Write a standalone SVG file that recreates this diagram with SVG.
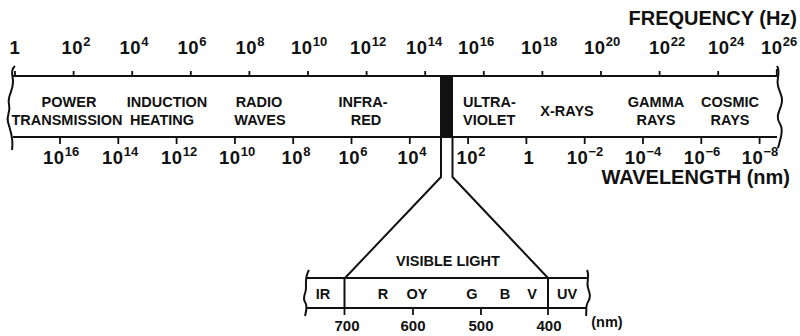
<svg xmlns="http://www.w3.org/2000/svg" width="800" height="336" viewBox="0 0 800 336">
<style>
text{font-family:"Liberation Sans",Arial,sans-serif;font-weight:bold;fill:#111}
.num{font-size:18.5px;text-anchor:middle;letter-spacing:0.6px}
.sup{font-size:13px;letter-spacing:0}
.band{font-size:14.5px;text-anchor:middle}
.title{font-size:20px;text-anchor:end}
.vis{font-size:14.5px;text-anchor:middle}
.vnum{font-size:15px;text-anchor:middle}
.ln{fill:none;stroke:#111;stroke-width:2}
.tk{stroke:#111;stroke-width:1.8}
</style>
<g id="frequency-axis">
<text class="title" x="797" y="25">FREQUENCY (Hz)</text>
<text class="num" x="15" y="54">1</text>
<text class="num" x="76" y="54">10<tspan class="sup" dy="-8">2</tspan></text>
<text class="num" x="134" y="54">10<tspan class="sup" dy="-8">4</tspan></text>
<text class="num" x="192" y="54">10<tspan class="sup" dy="-8">6</tspan></text>
<text class="num" x="250" y="54">10<tspan class="sup" dy="-8">8</tspan></text>
<text class="num" x="309" y="54">10<tspan class="sup" dy="-8">10</tspan></text>
<text class="num" x="368" y="54">10<tspan class="sup" dy="-8">12</tspan></text>
<text class="num" x="424" y="54">10<tspan class="sup" dy="-8">14</tspan></text>
<text class="num" x="476" y="54">10<tspan class="sup" dy="-8">16</tspan></text>
<text class="num" x="539" y="54">10<tspan class="sup" dy="-8">18</tspan></text>
<text class="num" x="602" y="54">10<tspan class="sup" dy="-8">20</tspan></text>
<text class="num" x="667" y="54">10<tspan class="sup" dy="-8">22</tspan></text>
<text class="num" x="726" y="54">10<tspan class="sup" dy="-8">24</tspan></text>
<text class="num" x="779" y="54">10<tspan class="sup" dy="-8">26</tspan></text>
</g>
<g id="spectrum-band">
<path class="ln" d="M13,76 H777 M13,137 H777"/>
<path class="ln" d="M15,66 C10,70 13,76 13,82 C13,92 7,96 9,104 C11,112 6,116 8,122 C10,130 14,138 12,150"/>
<path class="ln" d="M777,66 C781,72 776,78 778,86 C780,94 784,98 781,106 C778,114 776,118 780,124 C784,130 780,140 778,148"/>
<g class="tk">
<path d="M15,71V76M73.6,71V76M132.2,71V76M190.8,71V76M249.4,71V76M308,71V76M366.6,71V76M425.2,71V76M483.8,71V76M542.4,71V76M601,71V76M659.6,71V76M718.2,71V76M776.8,69V76"/>
<path d="M60,137V144M118.3,137V144M176.6,137V144M234.9,137V144M293.2,137V144M351.5,137V144M409.8,137V144M468.1,137V144M526.4,137V144M584.7,137V144M643,137V144M701.3,137V144M759.6,137V144"/>
</g>
<rect x="440" y="76" width="13" height="61" fill="#111"/>
<text class="band" x="69" y="107">POWER</text>
<text class="band" x="67" y="125">TRANSMISSION</text>
<text class="band" x="167" y="107">INDUCTION</text>
<text class="band" x="162" y="125">HEATING</text>
<text class="band" x="259" y="107">RADIO</text>
<text class="band" x="260" y="125">WAVES</text>
<text class="band" x="363" y="107">INFRA-</text>
<text class="band" x="366" y="125">RED</text>
<text class="band" x="463" y="107" style="text-anchor:start">ULTRA-</text>
<text class="band" x="463" y="125" style="text-anchor:start">VIOLET</text>
<text class="band" x="567" y="116">X-RAYS</text>
<text class="band" x="656" y="107">GAMMA</text>
<text class="band" x="656" y="125">RAYS</text>
<text class="band" x="730" y="107">COSMIC</text>
<text class="band" x="730" y="125">RAYS</text>
</g>
<g id="wavelength-axis">
<text class="num" x="61" y="164">10<tspan class="sup" dy="-8">16</tspan></text>
<text class="num" x="120" y="164">10<tspan class="sup" dy="-8">14</tspan></text>
<text class="num" x="179" y="164">10<tspan class="sup" dy="-8">12</tspan></text>
<text class="num" x="237" y="164">10<tspan class="sup" dy="-8">10</tspan></text>
<text class="num" x="296" y="164">10<tspan class="sup" dy="-8">8</tspan></text>
<text class="num" x="353" y="164">10<tspan class="sup" dy="-8">6</tspan></text>
<text class="num" x="412" y="164">10<tspan class="sup" dy="-8">4</tspan></text>
<text class="num" x="471" y="164">10<tspan class="sup" dy="-8">2</tspan></text>
<text class="num" x="529" y="164">1</text>
<text class="num" x="585" y="164">10<tspan class="sup" dy="-8">−2</tspan></text>
<text class="num" x="643" y="164">10<tspan class="sup" dy="-8">−4</tspan></text>
<text class="num" x="702" y="164">10<tspan class="sup" dy="-8">−6</tspan></text>
<text class="num" x="760" y="164">10<tspan class="sup" dy="-8">−8</tspan></text>
<text class="title" x="790" y="184">WAVELENGTH (nm)</text>
</g>
<g id="connectors">
<polyline class="ln" points="441,137 441,177 345,278"/>
<polyline class="ln" points="452.5,137 452.5,177 548,278"/>
</g>
<g id="visible-light">
<text class="vis" x="448" y="266">VISIBLE LIGHT</text>
<path class="ln" d="M306,278 H587 M306,308 H587"/>
<path class="ln" d="M309,270 C305,276 306,282 306,288 C306,294 302,297 305,302 C308,306 306,312 305,316"/>
<path class="ln" d="M587,270 C590,276 586,282 588,288 C590,294 591,297 588,302 C585,306 587,312 586,316"/>
<path class="ln" d="M344.5,278 V308 M548,278 V308"/>
<path class="tk" d="M344.5,308V315M413,308V315M481,308V315M548,308V315"/>
<text class="vis" x="323" y="299">IR</text>
<text class="vis" x="383" y="299">R</text>
<text class="vis" x="417" y="299">OY</text>
<text class="vis" x="472" y="299">G</text>
<text class="vis" x="505" y="299">B</text>
<text class="vis" x="532" y="299">V</text>
<text class="vis" x="567" y="299">UV</text>
<text class="vnum" x="347" y="331">700</text>
<text class="vnum" x="413" y="331">600</text>
<text class="vnum" x="481" y="331">500</text>
<text class="vnum" x="549" y="331">400</text>
<text class="vis" x="607" y="327">(nm)</text>
</g>
</svg>
